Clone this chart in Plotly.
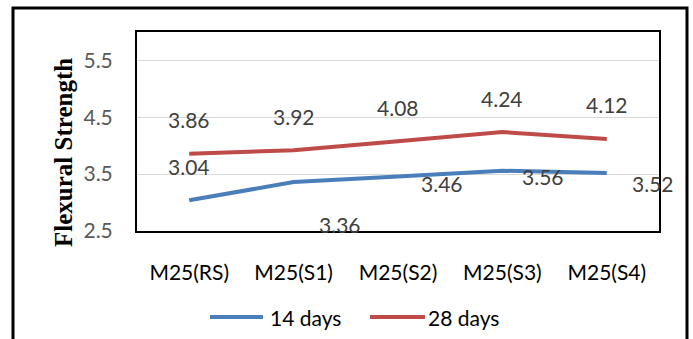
import plotly.graph_objects as go

categories = ["M25(RS)", "M25(S1)", "M25(S2)", "M25(S3)", "M25(S4)"]
days14 = [3.04, 3.36, 3.46, 3.56, 3.52]
days28 = [3.86, 3.92, 4.08, 4.24, 4.12]
series_names = ["14 days", "28 days"]
y_ticks = [2.5, 3.5, 4.5, 5.5]
y_title = "Flexural Strength"

# label offsets (pixels) as placed in the original
off14 = [(0, 34), (46, -42), (44, -7), (41, -6), (46, -10)]
off28 = [(0, 34), (0, 34), (0, 34), (0, 34), (0, 34)]

BLUE = "#4a7ebb"
RED = "#be4b48"
FONT = "Lato"

W, H = 693, 339
L, R, T, B = 137, 659, 32, 231
PW, PH = R - L, B - T


def px(x):  # x in page pixels
    return (x - L) / PW


def py(y):  # y in page pixels
    return (B - y) / PH


fig = go.Figure()
fig.add_trace(go.Scatter(x=categories, y=days14, mode="lines", name=series_names[0],
                         line=dict(color=BLUE, width=4), showlegend=False))
fig.add_trace(go.Scatter(x=categories, y=days28, mode="lines", name=series_names[1],
                         line=dict(color=RED, width=4), showlegend=False))

annotations = []
for vals, offs in ((days14, off14), (days28, off28)):
    for c, v, (dx, dy) in zip(categories, vals, offs):
        annotations.append(dict(x=c, y=v, xref="x", yref="y", text=f"{v:.2f}",
                                showarrow=False, xshift=dx, yshift=dy,
                                font=dict(family=FONT, size=21, color="#404040")))

# y-axis title
annotations.append(dict(x=px(63), y=py(153), xref="paper", yref="paper", text=f"<b>{y_title}</b>",
                        textangle=-90, showarrow=False, xanchor="center", yanchor="middle",
                        font=dict(family="Liberation Serif", size=25, color="black")))

# manual legend
shapes = []
leg = [(210, 263, 268, BLUE, series_names[0]), (370, 425, 426, RED, series_names[1])]
for x0, x1, tx, col, name in leg:
    shapes.append(dict(type="line", xref="paper", yref="paper", x0=px(x0), x1=px(x1),
                       y0=py(317), y1=py(317), line=dict(color=col, width=4)))
    annotations.append(dict(x=px(tx), y=py(317), xref="paper", yref="paper", text=name,
                            xanchor="left", yanchor="middle", showarrow=False,
                            font=dict(family=FONT, size=21, color="black")))

# outer border
shapes.append(dict(type="rect", xref="paper", yref="paper", x0=px(13), x1=px(687),
                   y0=py(360), y1=py(8), line=dict(color="black", width=3),
                   fillcolor="rgba(0,0,0,0)", layer="above"))

fig.update_layout(
    width=W, height=H,
    margin=dict(l=L, r=W - R, t=T, b=H - B),
    paper_bgcolor="white", plot_bgcolor="white",
    showlegend=False,
    annotations=annotations,
    shapes=shapes,
    xaxis=dict(type="category", range=[-0.5, 4.5], showgrid=False, ticks="",
               showline=True, linecolor="black", linewidth=2, mirror=True,
               tickfont=dict(family=FONT, size=21, color="black"),
               ticklabelstandoff=22, zeroline=False, fixedrange=True),
    yaxis=dict(range=[2.5, 6.0], tickvals=y_ticks, ticktext=[f"{t:.1f}" for t in y_ticks],
               showgrid=True, gridcolor="#d9d9d9", gridwidth=1, ticks="",
               showline=True, linecolor="black", linewidth=2, mirror=True,
               tickfont=dict(family=FONT, size=21, color="#595959"),
               ticklabelstandoff=18, zeroline=False, fixedrange=True),
)

fig.write_html("out.html", config={"displayModeBar": False},
               post_script="document.body.style.margin='0';document.body.style.overflow='hidden';")
